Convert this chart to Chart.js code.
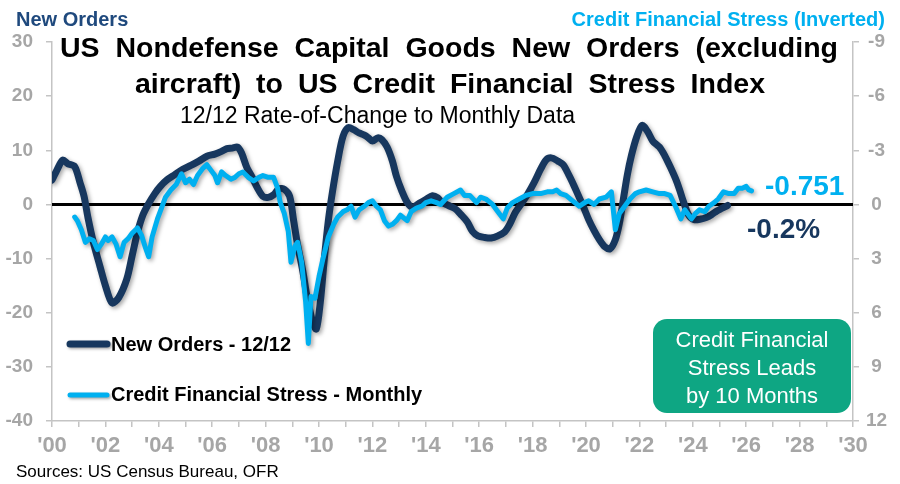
<!DOCTYPE html>
<html><head><meta charset="utf-8">
<script src="https://cdn.jsdelivr.net/npm/chart.js@4.4.1/dist/chart.umd.min.js"></script>
<style>html,body{margin:0;padding:0;background:#fff;}#wrap{position:relative;width:900px;height:484px;}</style>
</head><body><div id="wrap"><canvas id="c" width="900" height="484"></canvas></div>
<script>
// ---- Data ----
const newOrdersYears = [2000.0,2000.2,2000.4,2000.6,2000.85,2001.05,2001.2,2001.35,2001.55,2001.8,2002.0,2002.25,2002.5,2002.8,2003.0,2003.2,2003.4,2003.6,2003.85,2004.05,2004.3,2004.6,2004.9,2005.2,2005.5,2005.8,2006.1,2006.35,2006.55,2006.75,2006.95,2007.1,2007.3,2007.5,2007.7,2007.9,2008.1,2008.3,2008.5,2008.7,2008.9,2009.05,2009.2,2009.4,2009.55,2009.75,2009.9,2010.05,2010.2,2010.35,2010.5,2010.7,2010.9,2011.1,2011.3,2011.5,2011.7,2011.85,2012.0,2012.2,2012.35,2012.55,2012.75,2012.9,2013.1,2013.3,2013.5,2013.75,2014.0,2014.25,2014.45,2014.6,2014.85,2015.1,2015.3,2015.55,2015.75,2015.95,2016.2,2016.45,2016.7,2016.95,2017.15,2017.35,2017.6,2017.8,2018.05,2018.3,2018.5,2018.7,2018.95,2019.15,2019.35,2019.5,2019.7,2019.9,2020.1,2020.3,2020.5,2020.7,2020.9,2021.1,2021.25,2021.4,2021.55,2021.7,2021.9,2022.1,2022.3,2022.5,2022.75,2022.95,2023.15,2023.35,2023.5,2023.65,2023.85,2024.05,2024.3,2024.5,2024.7,2024.9,2025.1,2025.3];
const newOrdersValues = [4.5,6.5,8.2,7.5,7.0,4.0,1.5,-2.5,-7.0,-11.5,-15.0,-18.2,-17.2,-13.8,-9.5,-5.2,-2.0,0.0,2.0,3.3,4.5,5.5,6.5,7.2,8.0,8.9,9.3,9.8,10.3,10.4,10.6,9.5,6.8,5.0,3.0,1.5,1.3,1.8,2.9,2.8,1.5,-3.0,-7.5,-12.5,-17.0,-21.5,-23.0,-18.0,-10.0,-3.0,2.2,8.0,12.6,14.2,13.8,13.2,12.8,12.3,11.7,12.3,12.0,10.6,8.0,5.2,2.5,0.4,-0.5,0.2,0.9,1.6,1.2,0.4,-0.2,-0.8,-1.8,-3.2,-5.0,-5.8,-6.1,-6.2,-5.8,-5.1,-3.6,-1.5,0.3,1.8,4.0,6.5,8.2,8.6,8.0,7.3,5.5,4.0,1.8,-0.4,-2.8,-4.8,-6.5,-7.8,-8.2,-6.5,-3.5,1.0,5.5,9.0,12.5,14.6,13.5,11.7,10.6,9.0,7.0,4.8,2.8,0.5,-2.0,-2.8,-2.7,-2.4,-1.9,-1.2,-0.7,-0.2];

const stressYears = [2000.85,2000.95,2001.1,2001.25,2001.4,2001.55,2001.7,2001.85,2002.0,2002.1,2002.25,2002.4,2002.55,2002.7,2002.85,2003.0,2003.2,2003.35,2003.5,2003.62,2003.75,2003.95,2004.1,2004.25,2004.45,2004.65,2004.85,2005.0,2005.15,2005.3,2005.45,2005.65,2005.8,2005.95,2006.1,2006.2,2006.35,2006.5,2006.7,2006.85,2007.0,2007.15,2007.35,2007.55,2007.75,2007.9,2008.1,2008.3,2008.45,2008.55,2008.7,2008.85,2008.95,2009.1,2009.2,2009.35,2009.5,2009.6,2009.7,2009.85,2010.0,2010.15,2010.35,2010.55,2010.7,2010.9,2011.05,2011.2,2011.35,2011.5,2011.7,2011.85,2012.0,2012.15,2012.3,2012.45,2012.6,2012.75,2012.9,2013.05,2013.3,2013.45,2013.65,2013.85,2014.0,2014.2,2014.4,2014.55,2014.8,2015.05,2015.3,2015.45,2015.65,2015.9,2016.05,2016.25,2016.5,2016.7,2016.9,2017.05,2017.25,2017.5,2017.75,2018.0,2018.3,2018.55,2018.75,2018.9,2019.05,2019.25,2019.5,2019.75,2019.95,2020.1,2020.3,2020.5,2020.75,2020.95,2021.1,2021.25,2021.45,2021.65,2021.85,2022.0,2022.25,2022.5,2022.75,2022.95,2023.15,2023.35,2023.55,2023.7,2023.95,2024.1,2024.25,2024.45,2024.6,2024.8,2024.95,2025.15,2025.35,2025.55,2025.7,2025.85,2026.0,2026.1,2026.2];
const stressValues = [0.7,0.9,1.4,2.1,1.9,2.0,2.5,2.2,1.8,2.0,1.8,2.2,2.9,2.1,1.9,1.6,1.3,1.7,2.4,2.9,1.8,0.8,0.2,-0.4,-0.8,-1.1,-1.7,-1.2,-1.4,-1.1,-1.6,-2.0,-2.2,-1.9,-1.6,-1.2,-1.8,-1.6,-1.4,-1.5,-1.7,-1.8,-1.5,-1.3,-1.5,-1.6,-1.5,-1.5,-0.9,-0.1,0.5,1.5,3.2,2.3,2.1,3.2,5.4,7.7,5.1,5.2,4.0,3.0,1.8,1.1,0.7,0.4,0.3,0.1,0.7,0.3,0.1,-0.1,-0.2,0.1,0.3,0.9,1.2,1.1,0.9,0.6,0.9,0.4,0.2,0.1,-0.1,-0.2,-0.1,0.0,-0.4,-0.6,-0.8,-0.5,-0.5,-0.1,-0.4,-0.3,0.0,0.4,0.8,0.2,-0.1,-0.3,-0.5,-0.6,-0.6,-0.7,-0.7,-0.8,-0.6,-0.5,-0.2,0.1,-0.1,-0.2,0.0,-0.3,-0.4,-0.7,1.4,0.5,0.1,-0.3,-0.6,-0.7,-0.8,-0.7,-0.6,-0.6,-0.5,0.1,0.8,0.3,0.8,0.5,0.3,0.4,0.1,-0.1,-0.3,-0.7,-0.6,-0.6,-0.9,-0.9,-1.0,-0.8,-0.751];

const xTickYears = [2000,2002,2004,2006,2008,2010,2012,2014,2016,2018,2020,2022,2024,2026,2028,2030];
const xTickLabels = ["'00","'02","'04","'06","'08","'10","'12","'14","'16","'18","'20","'22","'24","'26","'28","'30"];
const lastNewOrdersLabel = "-0.2%";
const lastStressLabel = "-0.751";

const NAVY = '#17375e';
const LBLUE = '#00b0f0';
const GRAY = '#a6a6a6';
const AXIS = '#c4c4c4';
const FONT = "'Liberation Sans', Arial, Helvetica, sans-serif";

const overlay = {
  id: 'overlay',
  beforeDatasetsDraw(chart) {
    const {ctx, chartArea: a, scales: {y}} = chart;
    const y0 = y.getPixelForValue(0);
    ctx.save();
    ctx.strokeStyle = '#000'; ctx.lineWidth = 3;
    ctx.beginPath(); ctx.moveTo(a.left, y0); ctx.lineTo(a.right, y0); ctx.stroke();
    ctx.restore();
  },
  beforeDatasetDraw(chart) {
    const ctx = chart.ctx;
    ctx.save();
    ctx.shadowColor = 'rgba(0,0,0,0.35)';
    ctx.shadowBlur = 4; ctx.shadowOffsetX = 2; ctx.shadowOffsetY = 2;
  },
  afterDatasetDraw(chart) { chart.ctx.restore(); },
  afterDraw(chart) {
    const ctx = chart.ctx;
    ctx.save();
    // axis titles
    ctx.textBaseline = 'middle';
    ctx.font = `bold 20px ${FONT}`;
    ctx.fillStyle = '#1f497d'; ctx.textAlign = 'left';
    ctx.fillText('New Orders', 16, 20);
    ctx.fillStyle = LBLUE; ctx.textAlign = 'right';
    ctx.fillText('Credit Financial Stress (Inverted)', 885, 20);
    // title (justified)
    ctx.fillStyle = '#000'; ctx.textBaseline = 'alphabetic'; ctx.textAlign = 'center';
    ctx.font = `bold 28.5px ${FONT}`;
    const titleLines = [
      ['US Nondefense Capital Goods New Orders (excluding', 60, 838, 57],
      ['aircraft) to US Credit Financial Stress Index', 135, 765, 93]
    ];
    titleLines.forEach(([t, x0, x1, yb]) => {
      ctx.wordSpacing = '0px';
      const w = ctx.measureText(t).width;
      const gaps = t.split(' ').length - 1;
      const extra = Math.max(0, (x1 - x0 - w) / gaps);
      ctx.wordSpacing = extra.toFixed(2) + 'px';
      ctx.fillText(t, (x0 + x1) / 2, yb);
    });
    ctx.wordSpacing = '0px';
    ctx.font = `23px ${FONT}`; ctx.textAlign = 'left';
    ctx.fillText('12/12 Rate-of-Change to Monthly Data', 180, 123);
    // legend
    ctx.lineCap = 'round';
    ctx.shadowColor = 'rgba(0,0,0,0.35)'; ctx.shadowBlur = 3; ctx.shadowOffsetX = 1.5; ctx.shadowOffsetY = 1.5;
    ctx.strokeStyle = NAVY; ctx.lineWidth = 7;
    ctx.beginPath(); ctx.moveTo(70, 344); ctx.lineTo(107, 344); ctx.stroke();
    ctx.strokeStyle = LBLUE; ctx.lineWidth = 5;
    ctx.beginPath(); ctx.moveTo(70, 395); ctx.lineTo(107, 395); ctx.stroke();
    ctx.shadowColor = 'rgba(0,0,0,0)';
    ctx.fillStyle = '#000'; ctx.font = `bold 20px ${FONT}`; ctx.textBaseline = 'middle';
    ctx.fillText('New Orders - 12/12', 111, 345);
    ctx.fillText('Credit Financial Stress - Monthly', 111, 395);
    // last value labels
    ctx.font = `bold 28px ${FONT}`;
    ctx.fillStyle = LBLUE; ctx.fillText(lastStressLabel, 765, 187);
    ctx.fillStyle = NAVY; ctx.fillText(lastNewOrdersLabel, 747, 230);
    // green box
    ctx.fillStyle = '#0ea683';
    ctx.beginPath();
    if (ctx.roundRect) ctx.roundRect(653, 319, 198, 94, 14); else ctx.rect(653, 319, 198, 94);
    ctx.fill();
    ctx.fillStyle = '#fff'; ctx.font = `22px ${FONT}`; ctx.textAlign = 'center';
    ['Credit Financial', 'Stress Leads', 'by 10 Months'].forEach((t, i) => ctx.fillText(t, 752, 341 + i * 28));
    // sources
    ctx.fillStyle = '#000'; ctx.font = `17px ${FONT}`; ctx.textAlign = 'left'; ctx.textBaseline = 'alphabetic';
    ctx.fillText('Sources: US Census Bureau, OFR', 16, 477);
    ctx.restore();
  }
};

new Chart(document.getElementById('c'), {
  type: 'line',
  data: {
    datasets: [
      {
        label: 'Credit Financial Stress - Monthly',
        data: stressYears.map((x, i) => ({x, y: stressValues[i]})),
        yAxisID: 'y2', borderColor: LBLUE, borderWidth: 5, pointRadius: 0, tension: 0,
        borderJoinStyle: 'round', borderCapStyle: 'round', fill: false
      },
      {
        label: 'New Orders - 12/12',
        data: newOrdersYears.map((x, i) => ({x, y: newOrdersValues[i]})),
        yAxisID: 'y', borderColor: NAVY, borderWidth: 7, pointRadius: 0, tension: 0.3,
        borderJoinStyle: 'round', borderCapStyle: 'round', fill: false
      }
    ]
  },
  options: {
    responsive: false, animation: false, devicePixelRatio: 1,
    layout: {padding: {top: 42, left: 0, right: 0, bottom: 0}},
    plugins: {legend: {display: false}, tooltip: {enabled: false}, title: {display: false}},
    scales: {
      x: {
        type: 'linear', min: 2000, max: 2030, position: 'bottom',
        ticks: {
          stepSize: 1, autoSkip: false, maxRotation: 0, padding: 6, color: GRAY,
          font: {family: FONT, size: 22, weight: 'bold'},
          callback: v => { const i = xTickYears.indexOf(v); return i >= 0 ? xTickLabels[i] : ''; }
        },
        grid: {drawOnChartArea: false, tickLength: 6, color: AXIS, lineWidth: 1.5},
        border: {color: AXIS, width: 1.5},
        afterFit: s => { s.height = 63; }
      },
      y: {
        position: 'left', min: -40, max: 30,
        ticks: {stepSize: 10, padding: 13, color: GRAY, font: {family: FONT, size: 19, weight: 'bold'}},
        grid: {drawOnChartArea: false, tickLength: 6, color: AXIS, lineWidth: 1.5},
        border: {color: AXIS, width: 1.5},
        afterFit: s => { s.width = 52; }
      },
      y2: {
        position: 'right', min: -9, max: 12, reverse: true,
        ticks: {stepSize: 3, padding: 7, crossAlign: 'center', color: GRAY, font: {family: FONT, size: 19, weight: 'bold'}},
        grid: {drawOnChartArea: false, tickLength: 6, color: AXIS, lineWidth: 1.5},
        border: {color: AXIS, width: 1.5},
        afterFit: s => { s.width = 47; }
      }
    }
  },
  plugins: [overlay]
});
</script></body></html>
